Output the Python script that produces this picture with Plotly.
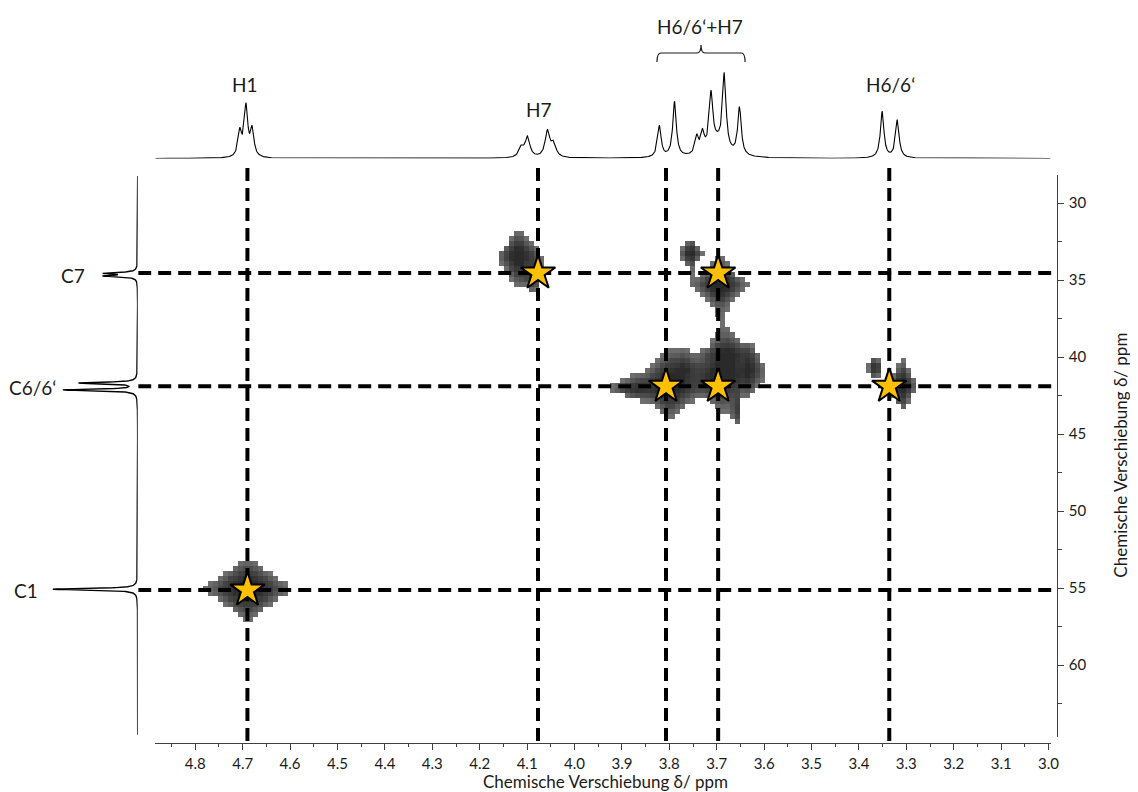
import numpy as np
import plotly.graph_objects as go

# page body has an 8px margin; the rendered width comes out ~1% narrower than asked,
# so horizontal pixel targets are corrected by SX
OFF = 8
SX = 0.9906
W, H = 1138, 792 - OFF

# ---------------- data ----------------
# 1H projection: peak positions (ppm), heights (a.u.), half widths (ppm)
h1_ppm = [4.706, 4.693, 4.680, 4.112, 4.099, 4.057, 4.044,
          3.821, 3.789, 3.742, 3.730, 3.712, 3.700, 3.684, 3.652, 3.351, 3.319]
h1_height = [25, 50, 27, 10, 20, 26, 13,
             31, 55, 17, 19, 54, 14, 75, 48, 46, 38]
h1_width = [0.0045, 0.0045, 0.0045, 0.006, 0.006, 0.006, 0.006,
            0.0045, 0.0045, 0.0045, 0.0045, 0.0045, 0.020, 0.0045, 0.0045, 0.0045, 0.0045]

# 13C projection: peak positions (ppm), heights (a.u.), half widths (ppm)
c13_ppm = [34.56, 34.74, 41.69, 42.14, 55.08]
c13_height = [32, 32, 58, 74, 85]
c13_width = [0.06, 0.06, 0.06, 0.06, 0.06]

# HSQC cross-peak components: 1H ppm, 13C ppm, amplitude, 1H half width, 13C half width
xp_h = [4.690, 4.118, 4.086, 3.693, 3.755,
        3.690, 3.675, 3.632, 3.800, 3.770, 3.870, 3.659,
        3.308, 3.366]
xp_c = [55.10, 33.50, 34.70, 35.30, 33.30,
        41.30, 39.90, 40.80, 41.90, 40.80, 42.10, 43.40,
        41.90, 40.70]
xp_amp = [1.1, 1.1, 0.8, 1.2, 0.9,
          1.1, 0.8, 0.7, 1.1, 0.55, 0.5, 0.5,
          1.1, 0.7]
xp_wh = [0.036, 0.018, 0.010, 0.021, 0.010,
         0.026, 0.022, 0.012, 0.026, 0.015, 0.030, 0.005,
         0.012, 0.008]
xp_wc = [0.80, 0.70, 0.50, 0.62, 0.45,
         0.75, 0.55, 0.70, 0.80, 0.50, 0.35, 0.75,
         0.65, 0.40]

# assigned shifts (dashed guide lines) and correlations (stars)
h_shifts = [4.690, 4.077, 3.807, 3.697, 3.336]
c_shifts = [34.55, 41.90, 55.13]
star_h = [4.690, 4.077, 3.697, 3.807, 3.697, 3.336]
star_c = [55.13, 34.55, 34.55, 41.90, 41.90, 41.90]

x_ticks = [4.8, 4.7, 4.6, 4.5, 4.4, 4.3, 4.2, 4.1, 4.0, 3.9, 3.8, 3.7, 3.6, 3.5, 3.4, 3.3, 3.2, 3.1, 3.0]
x_ticktext = [f"{v:.1f}" for v in x_ticks]
y_ticks = [30, 35, 40, 45, 50, 55, 60]

labels_h = ["H1", "H7", "H6/6‘+H7", "H6/6‘"]
labels_c = ["C7", "C6/6‘", "C1"]

# ---------------- pixel geometry helpers (window pixels) ----------------
def px_x_to_ppm(p):
    return 4.8 - (p - 195.0) / 473.33

def px_y_to_ppm(q):
    return 30.0 + (q - 203.0) / 15.4

def pxx(p):
    return ((p - OFF) / SX) / W

def pxy(q):
    return 1 - (q - OFF) / H

main_x_rng = [px_x_to_ppm(138), px_x_to_ppm(1055)]
main_y_rng = [px_y_to_ppm(741), px_y_to_ppm(163)]

fig = go.Figure()

# ---------------- HSQC heatmap ----------------
gx = np.arange(3.20, 4.90, 0.0106)
gy = np.arange(30.0, 60.0, 0.33)
GX, GY = np.meshgrid(gx, gy)
Z = np.zeros_like(GX)
for h, c, a, wh, wc in zip(xp_h, xp_c, xp_amp, xp_wh, xp_wc):
    Z += a / ((1 + ((GX - h) / wh) ** 2) * (1 + ((GY - c) / wc) ** 2))
thr = 0.15
Z = np.where(Z >= thr, Z, np.nan)
fig.add_trace(go.Heatmap(
    x=gx, y=gy, z=Z, xaxis="x", yaxis="y", zsmooth=False, showscale=False,
    zmin=thr, zmax=0.7, hoverinfo="skip",
    colorscale=[[0, "#707070"], [0.3, "#454545"], [1, "#2a2a2a"]]))

# ---------------- dashed guide lines ----------------
dash = "13px,7px"
for h in h_shifts:
    fig.add_trace(go.Scatter(x=[h, h], y=main_y_rng, mode="lines", xaxis="x", yaxis="y",
                             line=dict(color="black", width=4, dash=dash), hoverinfo="skip",
                             showlegend=False))
for c in c_shifts:
    fig.add_trace(go.Scatter(x=main_x_rng, y=[c, c], mode="lines", xaxis="x", yaxis="y",
                             line=dict(color="black", width=4, dash=dash), hoverinfo="skip",
                             showlegend=False))

# ---------------- stars ----------------
fig.add_trace(go.Scatter(x=star_h, y=star_c, mode="markers", xaxis="x", yaxis="y",
                         marker=dict(symbol="star", size=26, color="#FFC000",
                                     line=dict(color="black", width=2)),
                         showlegend=False, hoverinfo="skip"))

# ---------------- 1H projection (top) ----------------
hx = np.arange(px_x_to_ppm(1049), px_x_to_ppm(155), 0.0005)
hy = np.zeros_like(hx)
for p, a, w in zip(h1_ppm, h1_height, h1_width):
    hy += a / (1 + ((hx - p) / w) ** 2)
fig.add_trace(go.Scatter(x=hx, y=hy, mode="lines", xaxis="x2", yaxis="y2",
                         line=dict(color="black", width=1.1), showlegend=False, hoverinfo="skip"))

# ---------------- 13C projection (left) ----------------
cy = np.arange(px_y_to_ppm(176), px_y_to_ppm(735), 0.01)
cx = np.zeros_like(cy)
for p, a, w in zip(c13_ppm, c13_height, c13_width):
    cx += a / (1 + ((cy - p) / w) ** 2)
fig.add_trace(go.Scatter(x=cx, y=cy, mode="lines", xaxis="x3", yaxis="y",
                         line=dict(color="black", width=1.4), showlegend=False, hoverinfo="skip"))

# dummy trace for the visible axes frame
fig.add_trace(go.Scatter(x=[None], y=[None], xaxis="x4", yaxis="y4", showlegend=False,
                         hoverinfo="skip"))

font_family = "Lato, 'Open Sans', sans-serif"
axcol = "#404040"
txtcol = "#1a1a1a"

fig.update_layout(
    width=W, height=H, margin=dict(l=0, r=0, t=0, b=0),
    paper_bgcolor="white", plot_bgcolor="rgba(0,0,0,0)",
    font=dict(family=font_family, color=txtcol, size=15),
    showlegend=False,
    xaxis=dict(domain=[pxx(138), pxx(1055)], range=main_x_rng, visible=False, anchor="y"),
    yaxis=dict(domain=[pxy(741), pxy(163)], range=main_y_rng, visible=False, anchor="x"),
    xaxis2=dict(domain=[pxx(155), pxx(1049)], range=[px_x_to_ppm(155), px_x_to_ppm(1049)],
                visible=False, anchor="y2"),
    yaxis2=dict(domain=[pxy(158.5), pxy(28.5)], range=[0, 130], visible=False, anchor="x2"),
    xaxis3=dict(domain=[pxx(20), pxx(137.5)], range=[117.5, 0], visible=False, anchor="y"),
    xaxis4=dict(domain=[pxx(155), pxx(1049)], range=[px_x_to_ppm(155), px_x_to_ppm(1049)],
                anchor="free", position=pxy(742.5), showline=True, linecolor=axcol, linewidth=1.3,
                ticks="outside", tickcolor=axcol, ticklen=6, tickwidth=1.3,
                tickvals=x_ticks, ticktext=x_ticktext, ticklabelstandoff=1,
                tickfont=dict(size=15, color=txtcol, family=font_family),
                minor=dict(dtick=0.05, tick0=3.0, ticks="outside", ticklen=3, tickcolor=axcol,
                           tickwidth=1.2),
                showgrid=False, zeroline=False),
    yaxis4=dict(domain=[pxy(737), pxy(175)], range=[px_y_to_ppm(737), px_y_to_ppm(175)],
                anchor="free", position=pxx(1055), side="right", showline=True, linecolor=axcol,
                linewidth=1.3, ticks="outside", tickcolor=axcol, ticklen=6, tickwidth=1.3,
                tickvals=y_ticks, ticklabelstandoff=2,
                tickfont=dict(size=15, color=txtcol, family=font_family),
                minor=dict(dtick=2.5, tick0=0, ticks="outside", ticklen=4, tickcolor=axcol,
                           tickwidth=1.2),
                showgrid=False, zeroline=False),
)

annots = []
# axis titles
annots.append(dict(text="Chemische Verschiebung δ/ ppm", x=pxx(605), y=pxy(781), xref="paper",
                   yref="paper", showarrow=False, font=dict(size=17, family=font_family),
                   xanchor="center", yanchor="middle"))
annots.append(dict(text="Chemische Verschiebung δ/ ppm", x=pxx(1118), y=pxy(455), xref="paper",
                   yref="paper", showarrow=False, font=dict(size=17, family=font_family),
                   textangle=-90, xanchor="center", yanchor="middle"))
# peak labels
h_label_px = [(245, 85), (538, 110), (699, 26), (889, 85)]
for t, (px, py) in zip(labels_h, h_label_px):
    annots.append(dict(text=t, x=pxx(px), y=pxy(py), xref="paper", yref="paper", showarrow=False,
                       font=dict(size=19, family=font_family, color=txtcol),
                       xanchor="center", yanchor="middle"))
c_label_px = [(73, 275), (32, 387), (26, 590)]
for t, (px, py) in zip(labels_c, c_label_px):
    annots.append(dict(text=t, x=pxx(px), y=pxy(py), xref="paper", yref="paper", showarrow=False,
                       font=dict(size=19, family=font_family, color=txtcol),
                       xanchor="center", yanchor="middle"))
fig.update_layout(annotations=annots)

# bracket over H6/6'+H7 group
pts = [("M", 656, 62), ("Q", 656, 53, 660, 53), ("L", 696, 53), ("Q", 700, 53, 700, 45),
       ("Q", 700, 53, 704, 53), ("L", 740, 53), ("Q", 744, 53, 744, 62)]
path = ""
for seg in pts:
    cmd = seg[0]
    vals = seg[1:]
    coords = []
    for i in range(0, len(vals), 2):
        coords.append(f"{pxx(vals[i]):.5f},{pxy(vals[i+1]):.5f}")
    path += cmd + " " + " ".join(coords) + " "
fig.add_shape(type="path", path=path.strip(), xref="paper", yref="paper",
              line=dict(color=txtcol, width=1.2))

fig.write_html("out.html")
